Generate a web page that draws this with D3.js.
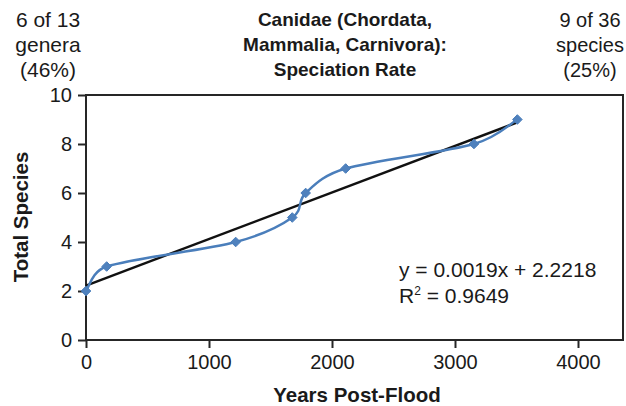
<!DOCTYPE html>
<html><head><meta charset="utf-8">
<script src="https://cdn.jsdelivr.net/npm/d3@7"></script>
<style>
body{margin:0;background:#fff;}
text{font-family:"Liberation Sans",Arial,sans-serif;fill:#1a1a1a;}
</style></head>
<body><svg id="c" width="626" height="406"></svg>
<script>
const years = [0, 168, 1217, 1677, 1786, 2111, 3154, 3507];
const species = [2, 3, 4, 5, 6, 7, 8, 9];
const xTicks = [0, 1000, 2000, 3000, 4000];
const yTicks = [0, 2, 4, 6, 8, 10];
const trendSlope = 0.0019, trendIntercept = 2.2218;
const trendRange = [0, 3507];
const titleLines = ["Canidae (Chordata,", "Mammalia, Carnivora):", "Speciation Rate"];
const leftNote = ["6 of 13", "genera", "(46%)"];
const rightNote = ["9 of 36", "species", "(25%)"];

const svg = d3.select("#c");
svg.append("rect").attr("width",626).attr("height",406).attr("fill","#fff");
const x = d3.scaleLinear().domain([0,4000]).range([86,578]);
const y = d3.scaleLinear().domain([0,10]).range([340,95]);
const frameRight = 623;

svg.append("rect").attr("x",86).attr("y",95).attr("width",frameRight-86).attr("height",245)
  .attr("fill","none").attr("stroke","#262626").attr("stroke-width",2);

const ax = svg.append("g").attr("transform","translate(0,340)")
  .call(d3.axisBottom(x).tickValues(xTicks).tickSize(8).tickPadding(7).tickFormat(d3.format("d")));
const ay = svg.append("g").attr("transform","translate(86,0)")
  .call(d3.axisLeft(y).tickValues(yTicks).tickSize(8).tickPadding(6));
[ax, ay].forEach(g=>{
  g.select(".domain").remove();
  g.selectAll("line").attr("stroke","#262626").attr("stroke-width",2);
  g.selectAll("text").attr("font-size","20px").attr("font-family","Liberation Sans, Arial, sans-serif").attr("fill","#1a1a1a");
});

svg.append("line")
  .attr("x1",x(trendRange[0])).attr("y1",y(trendSlope*trendRange[0]+trendIntercept))
  .attr("x2",x(trendRange[1])).attr("y2",y(trendSlope*trendRange[1]+trendIntercept))
  .attr("stroke","#111").attr("stroke-width",2.4);

// Excel-style smoothing (Bezier with limited tension)
const pts = years.map((v,i)=>[x(v), y(species[i])]);
function excelSmooth(p){
  const dist=(a,b)=>Math.hypot(a[0]-b[0],a[1]-b[1]);
  let d = `M${p[0][0]},${p[0][1]}`;
  const n=p.length;
  for(let i=0;i<n-1;i++){
    const p0=p[Math.max(i-1,0)], p1=p[i], p2=p[i+1], p3=p[Math.min(i+2,n-1)];
    const d02=dist(p0,p2), d12=dist(p1,p2), d13=dist(p1,p3);
    const f=1/6;
    let f0=f, f1=f;
    if(d02/6 >= d12/2) f0 = d12/d02/2;
    if(d13/6 >= d12/2) f1 = d12/d13/2;
    const c1=[p1[0]+(p2[0]-p0[0])*f0, p1[1]+(p2[1]-p0[1])*f0];
    const c2=[p2[0]-(p3[0]-p1[0])*f1, p2[1]-(p3[1]-p1[1])*f1];
    d += `C${c1[0]},${c1[1]} ${c2[0]},${c2[1]} ${p2[0]},${p2[1]}`;
  }
  return d;
}
svg.append("path").attr("d", excelSmooth(pts))
  .attr("fill","none").attr("stroke","#4A7EBB").attr("stroke-width",2.5);
svg.selectAll(".m").data(pts).enter().append("path")
  .attr("transform",d=>`translate(${d[0]},${d[1]})`)
  .attr("d","M0,-4.8L4.8,0L0,4.8L-4.8,0Z").attr("fill","#4F81BD").attr("stroke","#4A7EBB").attr("stroke-width",1);

titleLines.forEach((t,i)=>svg.append("text").attr("x",345).attr("y",26+i*25)
  .attr("text-anchor","middle").attr("font-size","19px").attr("font-weight","bold").text(t));
leftNote.forEach((t,i)=>svg.append("text").attr("x",48).attr("y",27+i*25)
  .attr("text-anchor","middle").attr("font-size","21px").text(t));
rightNote.forEach((t,i)=>svg.append("text").attr("x",590).attr("y",27+i*25)
  .attr("text-anchor","middle").attr("font-size","20px").text(t));

svg.append("text").attr("x",357).attr("y",402).attr("text-anchor","middle")
  .attr("font-size","20.5px").attr("font-weight","bold").text("Years Post-Flood");
svg.append("text").attr("transform","translate(28,217) rotate(-90)").attr("text-anchor","middle")
  .attr("font-size","20.5px").attr("font-weight","bold").text("Total Species");

svg.append("text").attr("x",399).attr("y",277).attr("font-size","21px")
  .text(`y = ${trendSlope}x + ${trendIntercept}`);
const r = svg.append("text").attr("x",399).attr("y",303).attr("font-size","21px");
r.append("tspan").text("R");
r.append("tspan").attr("font-size","12px").attr("dy",-8).text("2");
r.append("tspan").attr("dy",8).text(" = 0.9649");
</script></body></html>
